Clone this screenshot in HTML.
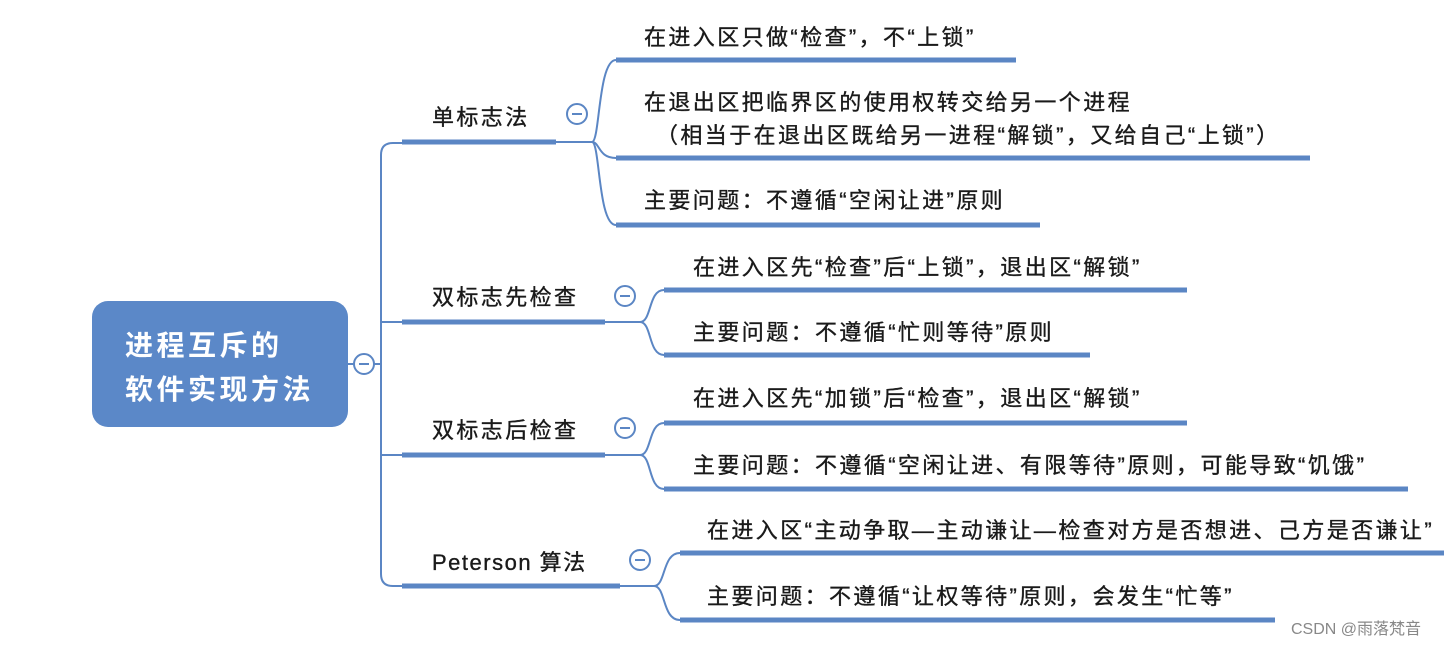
<!DOCTYPE html>
<html><head><meta charset="utf-8"><style>
html,body{margin:0;padding:0;background:#fff;}
svg{display:block}
text{font-family:"Liberation Sans","Noto Sans CJK SC",sans-serif;fill:#1a1a1a;}
.t{font-size:22px;letter-spacing:2.4px;stroke:#1a1a1a;stroke-width:0.35px;}
</style></head><body>
<svg width="1444" height="645" viewBox="0 0 1444 645" xmlns="http://www.w3.org/2000/svg">
<g stroke="#5b86c4" fill="none" stroke-width="2">
<path d="M402 143 H393 Q381 143 381 155 V574 Q381 586 393 586 H402"/>
<path d="M381 322 H402 M381 455 H402"/>
<path d="M348 364 H381"/>
<path d="M556 142 H592"/>
<path d="M605 322 H640"/>
<path d="M605 455 H640"/>
<path d="M620 586 H654"/>
<path d="M592 142 C600 142 598 60 616 60"/>
<path d="M592 142 C600 142 598 158 616 158"/>
<path d="M592 142 C600 142 598 225 616 225"/>
<path d="M640 322 C652 322 648 290 664 290"/>
<path d="M640 322 C652 322 648 355 664 355"/>
<path d="M640 455 C652 455 648 423 664 423"/>
<path d="M640 455 C652 455 648 489 664 489"/>
<path d="M654 586 C666 586 662 553 680 553"/>
<path d="M654 586 C666 586 662 620 680 620"/>
</g>
<g stroke="#5b86c4" stroke-width="5">
<path d="M402 142 H556"/><path d="M402 322 H605"/><path d="M402 455 H605"/><path d="M402 586 H620"/>
<path d="M616 60 H1016"/><path d="M616 158 H1310"/><path d="M616 225 H1040"/>
<path d="M664 290 H1187"/><path d="M664 355 H1090"/>
<path d="M664 423 H1187"/><path d="M664 489 H1408"/>
<path d="M680 553 H1444"/><path d="M680 620 H1275"/>
</g>
<rect x="92" y="301" width="256" height="126" rx="16" fill="#5b88c8"/>
<text x="125" y="355" font-size="28" font-weight="bold" letter-spacing="3.5" style="fill:#fff">进程互斥的</text>
<text x="125" y="399" font-size="28" font-weight="bold" letter-spacing="3.5" style="fill:#fff">软件实现方法</text>
<g fill="#fff" stroke="#5b86c4" stroke-width="2">
<circle cx="364" cy="364" r="10"/><circle cx="577" cy="114" r="10"/><circle cx="625" cy="296" r="10"/><circle cx="625" cy="428" r="10"/><circle cx="640" cy="560" r="10"/>
</g>
<g stroke="#5b86c4" stroke-width="2">
<path d="M359 364H369M572 114H582M620 296H630M620 428H630M635 560H645"/>
</g>
<g class="t">
<text x="432" y="125">单标志法</text>
<text x="432" y="305">双标志先检查</text>
<text x="432" y="438">双标志后检查</text>
<text x="432" y="570" letter-spacing="1.5">Peterson 算法</text>
<text x="644" y="45">在进入区只做“检查”，不“上锁”</text>
<text x="644" y="110">在退出区把临界区的使用权转交给另一个进程</text>
<text x="656" y="143">（相当于在退出区既给另一进程“解锁”，又给自己“上锁”）</text>
<text x="644" y="208">主要问题：不遵循“空闲让进”原则</text>
<text x="693" y="275">在进入区先“检查”后“上锁”，退出区“解锁”</text>
<text x="693" y="340">主要问题：不遵循“忙则等待”原则</text>
<text x="693" y="406">在进入区先“加锁”后“检查”，退出区“解锁”</text>
<text x="693" y="473">主要问题：不遵循“空闲让进、有限等待”原则，可能导致“饥饿”</text>
<text x="707" y="538">在进入区“主动争取—主动谦让—检查对方是否想进、己方是否谦让”</text>
<text x="707" y="604">主要问题：不遵循“让权等待”原则，会发生“忙等”</text>
</g>
<text x="1291" y="634" font-size="16" style="fill:#888">CSDN @雨落梵音</text>
</svg>
</body></html>
